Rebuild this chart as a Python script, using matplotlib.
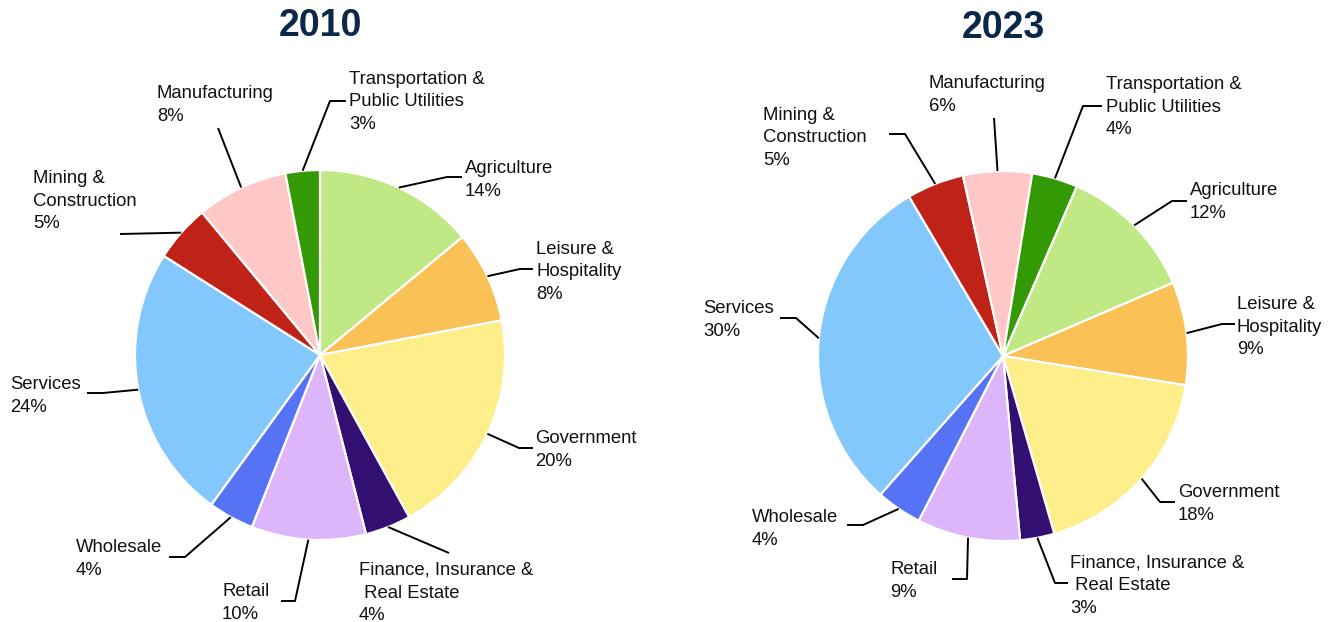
import numpy as np
import matplotlib.pyplot as plt

plt.rcParams['font.family'] = ['Liberation Sans', 'DejaVu Sans']

# sectors, clockwise from the start of the pie
sectors = ['Agriculture', 'Leisure &\nHospitality', 'Government',
           'Finance, Insurance &\n Real Estate', 'Retail', 'Wholesale',
           'Services', 'Mining &\nConstruction', 'Manufacturing',
           'Transportation &\nPublic Utilities']
share_2010 = [14, 8, 20, 4, 10, 4, 24, 5, 8, 3]
share_2023 = [12, 9, 18, 3, 9, 4, 30, 5, 6, 4]
colors = ['#c0e885', '#f9c156', '#fdee8a', '#320f70', '#dcb5fb',
          '#5773f5', '#82c8fd', '#bf2217', '#ffc8c6', '#339a05']

# layout (pixels, y from top): label block left/centre, elbow of leader, end of leader
W, H = 1335, 622
R = 185
layout = {
    '2010': dict(center=(320, 355), start=90, title_y=26,
                 text=[(465, 180), (536, 272), (535, 450), (359, 593), (222, 603),
                       (76, 559), (10, 396), (33, 201), (157, 105), (349, 102)],
                 elbow=[(447, 177), (520, 269), (519, 448), (449, 553), (295, 601),
                        (185, 557), (103, 393), (120, 234), (218, 128), (330, 101)],
                 end=[462, 533, 533, 449, 281, 169, 87, 120, 218, 346]),
    '2023': dict(center=(1003, 356), start=66.5, title_y=28,
                 text=[(1190, 202), (1237, 327), (1178, 504), (1070, 586), (890, 581),
                       (752, 529), (703, 320), (763, 138), (929, 95), (1106, 107)],
                 elbow=[(1172, 201), (1222, 324), (1160, 502), (1055, 583), (967, 579),
                        (863, 525), (796, 318), (905, 134), (994, 118), (1083, 106)],
                 end=[1187, 1235, 1175, 1068, 952, 847, 780, 889, 994, 1102]),
}

fig = plt.figure(figsize=(13.35, 6.22), dpi=100)
ax = fig.add_axes([0, 0, 1, 1])


def draw(year, values):
    lay = layout[year]
    cx, cy = lay['center']
    wedges, _ = ax.pie(values, colors=colors, startangle=lay['start'], counterclock=False,
                       radius=R, center=(cx, H - cy),
                       wedgeprops=dict(edgecolor='white', linewidth=1.6))
    for w, lab, v, (tx, ty), (ex, ey), hx in zip(wedges, sectors, values,
                                                   lay['text'], lay['elbow'], lay['end']):
        mid = np.deg2rad((w.theta1 + w.theta2) / 2)
        sx = cx + R * np.cos(mid)
        sy = (H - cy) + R * np.sin(mid)
        ax.plot([sx, ex, hx], [sy, H - ey, H - ey], color='black', lw=1.4,
                solid_capstyle='butt', zorder=3)
        ax.text(tx, H - ty, f'{lab}\n{v}%', ha='left', va='center',
                fontsize=13.3, color='#111111', linespacing=1.46)
    ax.text(cx, H - lay['title_y'], year, ha='center', va='center',
            fontsize=27, fontweight='bold', color='#0c2849')


draw('2010', share_2010)
draw('2023', share_2023)

ax.set_aspect('auto')
ax.set_xlim(0, W)
ax.set_ylim(0, H)
ax.axis('off')

fig.savefig('out.png', dpi=100)
